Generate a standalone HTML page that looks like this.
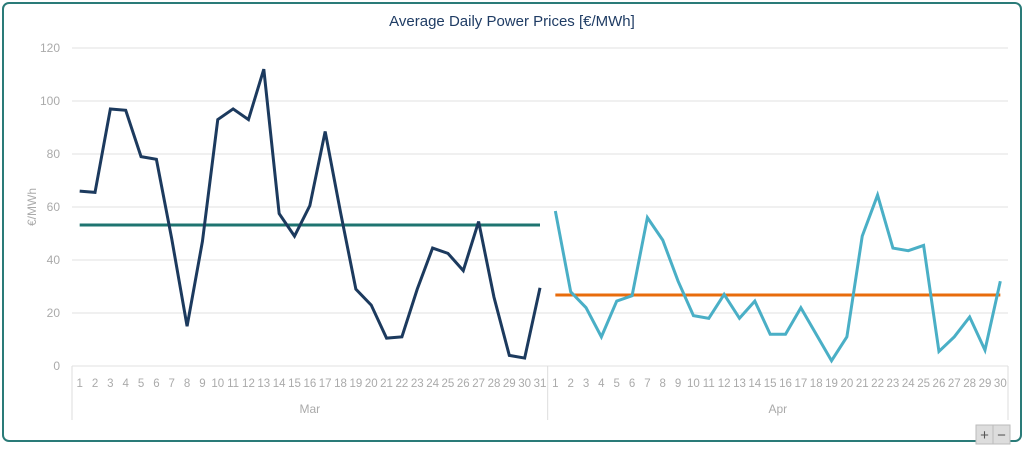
<!DOCTYPE html>
<html><head><meta charset="utf-8"><style>
body{margin:0;width:1024px;height:455px;background:#fff;font-family:"Liberation Sans",sans-serif;overflow:hidden}
</style></head><body>
<svg width="1024" height="455">
<rect x="3" y="3" width="1018" height="438" rx="6" fill="#fff" stroke="#2a7b78" stroke-width="2"/>
<text x="512" y="26" text-anchor="middle" font-size="15" fill="#1f3c64">Average Daily Power Prices [€/MWh]</text>
<text x="36" y="207" text-anchor="middle" font-size="12" fill="#aaa" transform="rotate(-90 36 207)">€/MWh</text>
<g id="grid"></g><g id="ylab"></g><g id="xlab"></g><g id="series"></g>
<g>
<rect x="976" y="425" width="17" height="19" fill="#ddd" stroke="#bbb"/>
<text x="984.5" y="440" text-anchor="middle" font-size="15" fill="#555">+</text>
<rect x="993" y="425" width="17" height="19" fill="#ddd" stroke="#bbb"/>
<text x="1001.5" y="440" text-anchor="middle" font-size="15" fill="#555">−</text>
</g>
</svg>
<script>
const marDays=[1,2,3,4,5,6,7,8,9,10,11,12,13,14,15,16,17,18,19,20,21,22,23,24,25,26,27,28,29,30,31];
const aprDays=[1,2,3,4,5,6,7,8,9,10,11,12,13,14,15,16,17,18,19,20,21,22,23,24,25,26,27,28,29,30];
const marPrices=[66,65.5,97,96.5,79,78,48,15,47,93,97,93,112,57.5,49,60.5,88.5,58,29,23,10.5,11,29,44.5,42.5,36,54.5,26,4,3,29.5];
const aprPrices=[58.5,28,22,11,24.5,26.5,56,47.5,32,19,18,27,18,24.5,12,12,22,12,2,11,49,64.5,44.5,43.5,45.5,5.5,11,18.5,6,32];
const marAvg=53.2;
const aprAvg=26.8;
const yTicks=[0,20,40,60,80,100,120];
const monthLabels=["Mar","Apr"];
const NS="http://www.w3.org/2000/svg";
const x0=72,x1=1008,y0=366,yTop=48,ymax=120;
const n=marDays.length+aprDays.length;
const step=(x1-x0)/n;
const xS=i=>x0+step*(i+0.5);
const yS=v=>y0-(v/ymax)*(y0-yTop);
function mk(tag,attrs,parent){const e=document.createElementNS(NS,tag);for(const k in attrs)e.setAttribute(k,attrs[k]);document.getElementById(parent).appendChild(e);return e;}
yTicks.forEach(t=>{
 const l=mk('line',{x1:x0,x2:x1,y1:yS(t),y2:yS(t),stroke:'#e2e2e2','stroke-width':1},'grid');
 
 
 const tx=mk('text',{x:60,y:yS(t)+4,'text-anchor':'end','font-size':12,fill:'#aaa'},'ylab');
 tx.textContent=t;
 
 
});
const split=x0+step*marDays.length;
[[x0,x0],[split,split],[x1,x1]].forEach(p=>{
 const l=mk('line',{x1:p[0],x2:p[1],y1:y0,y2:420,stroke:'#ddd','stroke-width':1},'grid');
 
 
});
marDays.concat(aprDays).forEach((d,i)=>{
 const t=mk('text',{x:xS(i),y:387,'text-anchor':'middle','font-size':11.5,fill:'#aaa'},'xlab');
 t.textContent=d;
 
 
});
[[(x0+split)/2,monthLabels[0]],[(split+x1)/2,monthLabels[1]]].forEach(m=>{
 const t=mk('text',{x:m[0],y:413,'text-anchor':'middle','font-size':12,fill:'#aaa'},'xlab');
 t.textContent=m[1];
 
 
});
function line(vals,off,color,name,w){
 const pts=vals.map((v,i)=>xS(i+off)+','+yS(v)).join(' ');
 const p=mk('polyline',{points:pts,fill:'none',stroke:color,'stroke-width':w,'stroke-linejoin':'miter'},'series');
 
 
}
line(marDays.map(()=>marAvg),0,'#1e7470','march-average-line',3);
line(aprDays.map(()=>aprAvg),marDays.length,'#e86c0c','april-average-line',3);
line(marPrices,0,'#1c3a5e','march-price-line',3);
line(aprPrices,marDays.length,'#4aafc6','april-price-line',3);
</script>
</body></html>
